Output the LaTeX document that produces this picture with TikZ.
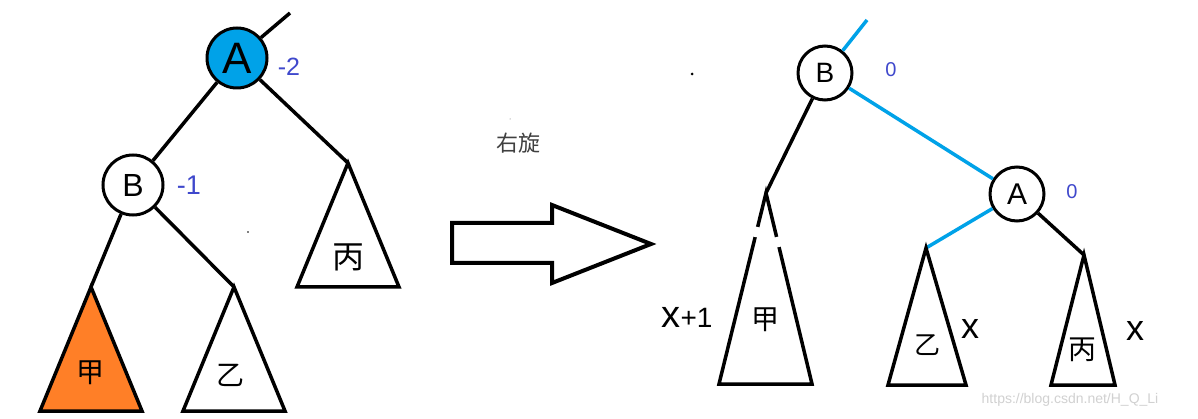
\documentclass[tikz,border=0pt]{standalone}
\usepackage{fontspec}
\setmainfont{Liberation Sans}
\newfontfamily\cjk{Noto Sans CJK SC}
\definecolor{paintblue}{RGB}{0,162,232}
\definecolor{paintorange}{RGB}{255,127,39}
\definecolor{indigolbl}{RGB}{63,72,204}
\begin{document}
\begin{tikzpicture}[x=1pt,y=-1pt,
  edge/.style={line width=3.5pt},
  bedge/.style={line width=3.5pt,draw=paintblue},
  nodecirc/.style={circle,draw,line width=3pt,inner sep=0pt},
  tri/.style={line width=3.5pt,line join=miter},
  bal/.style={text=indigolbl,inner sep=0pt,font=\fontsize{#1}{#1}\selectfont},
  bal/.default=20,
  ht/.style={inner sep=0pt,font=\fontsize{36}{36}\selectfont},
  zh/.style={inner sep=0pt,font=\cjk\fontsize{#1}{#1}\selectfont},
  zh/.default=28
]
\useasboundingbox (0,0) rectangle (1198,419);
\fill[white] (0,0) rectangle (1198,419);

% ---------- left tree ----------
\coordinate (LTop) at (290,13);
\coordinate (LC) at (348,163);
\coordinate (LJ) at (91,287);
\coordinate (LY) at (234,287);
\node[nodecirc,minimum size=60pt,fill=paintblue] (LA) at (237,58) {};
\node[nodecirc,minimum size=60pt,fill=white] (LB) at (133,185) {};
\node[inner sep=0pt,font=\fontsize{44}{44}\selectfont] at (LA) {A};
\node[inner sep=0pt,font=\fontsize{32}{32}\selectfont] at (LB) {B};
\draw[edge] (LA) -- (LTop);
\draw[edge] (LA) -- (LB);
\draw[edge] (LA) -- (LC);
\draw[edge] (LB) -- (LJ);
\draw[edge] (LB) -- (LY);
\filldraw[tri,fill=white] (LC) -- (297,287) -- (399,287) -- cycle;
\filldraw[tri,fill=paintorange] (LJ) -- (40,411) -- (142,411) -- cycle;
\filldraw[tri,fill=white] (LY) -- (183,411) -- (285,411) -- cycle;
\node[zh=32] (LCt) at (348,257) {丙};
\node[zh=28] (LJt) at (90,373) {甲};
\node[zh=28] (LYt) at (230,375) {乙};
\node[bal=25] (LAb) at (289,67) {-2};
\node[bal=27] (LBb) at (189,185) {-1};
\fill (248,232) circle (0.8pt);

% ---------- arrow ----------
\draw[line width=4pt,line join=miter] (452,223) -- (552,223) -- (552,205) -- (651,244) -- (552,283) -- (552,263) -- (452,263) -- cycle;
\node[inner sep=0pt,text=black!75,font=\cjk\fontsize{22}{22}\selectfont] (rot) at (518,143) {右旋};
\fill[black!60] (510,119) circle (0.5pt);

% ---------- right tree ----------
\coordinate (RTop) at (867,20);
\coordinate (RJ) at (766,193);
\coordinate (RY) at (926,248);
\coordinate (RC) at (1084,255);
\node[nodecirc,minimum size=54pt,fill=white] (RB) at (825,73) {};
\node[nodecirc,minimum size=54pt,fill=white] (RA) at (1017,194) {};
\node[inner sep=0pt,font=\fontsize{28}{28}\selectfont] at (RB) {B};
\node[inner sep=0pt,font=\fontsize{30}{30}\selectfont] at (RA) {A};
\draw[bedge] (RB) -- (RTop);
\draw[bedge] (RB) -- (RA);
\draw[edge] (RB) -- (RJ);
\draw[bedge] (RA) -- (RY);
\draw[edge] (RA) -- (RC);
\draw[tri] (RJ) -- (719,384) -- (812,384) -- cycle;
\draw[tri] (RY) -- (888,385) -- (966,385) -- cycle;
\draw[tri] (RC) -- (1051,385) -- (1115,385) -- cycle;
\draw[white,line width=5pt] (757.6,227) -- (755.2,237);
\draw[white,line width=5pt] (776.6,237) -- (779,247);
\node[zh=28] (RJt) at (765,320) {甲};
\node[zh=26] (RYt) at (927,345) {乙};
\node[zh=28] (RCt) at (1082,350) {丙};
\node[bal] (RBb) at (891,70) {0};
\node[bal] (RAb) at (1072,192) {0};
\node[inner sep=0pt,anchor=base] (hJ) at (687,327) {\fontsize{38}{38}\selectfont x\fontsize{28}{28}\selectfont +1};
\node[ht,anchor=base] (hY) at (970,338) {x};
\node[ht,anchor=base] (hC) at (1135,340) {x};
\fill (692,74) circle (1.5pt);
\node[inner sep=0pt,text=black!18,font=\fontsize{14}{14}\selectfont] (wm) at (1070,400) {https://blog.csdn.net/H\_Q\_Li};
\end{tikzpicture}
\end{document}
